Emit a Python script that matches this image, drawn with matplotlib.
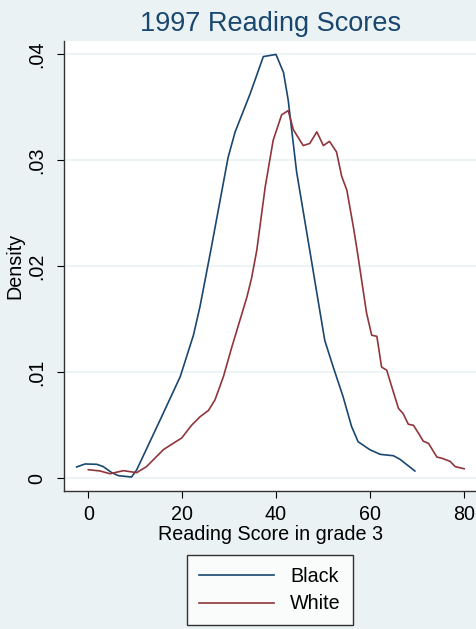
import matplotlib
matplotlib.use("Agg")
import matplotlib.pyplot as plt

# Kernel density curves
black_x = [-2.5, -0.7, 1.8, 3.2, 5.0, 6.4, 9.2, 10.3, 15.3, 19.6, 22.4, 23.8, 26.1,
           29.8, 31.3, 34.5, 37.3, 40.0, 41.6, 42.6, 44.4, 47.2, 48.7, 50.4, 52.2,
           54.3, 56.1, 57.5, 60.0, 62.2, 65.0, 66.4, 69.6]
black_y = [0.00107, 0.00135, 0.00132, 0.0011, 0.00053, 0.00025, 0.00012, 0.00078,
           0.0055, 0.0096, 0.0135, 0.0162, 0.0215, 0.0303, 0.0327, 0.0363, 0.0398,
           0.0400, 0.0383, 0.0357, 0.0289, 0.0215, 0.0175, 0.0130, 0.0105, 0.0077,
           0.0049, 0.00345, 0.0027, 0.00226, 0.00213, 0.0018, 0.00069]

white_x = [0.0, 2.5, 4.6, 7.5, 10.3, 12.4, 16.0, 18.1, 19.9, 22.0, 23.8, 25.6, 27.0,
           28.8, 30.6, 32.3, 33.8, 34.8, 35.9, 37.7, 39.4, 41.2, 42.6, 43.7, 45.8,
           47.2, 48.7, 50.1, 51.4, 52.9, 54.0, 55.1, 56.5, 57.3, 59.3, 60.4, 61.5,
           62.5, 63.6, 64.7, 66.1, 67.1, 68.2, 69.3, 70.3, 71.4, 72.5, 74.3, 75.3,
           77.1, 78.2, 80.1]
white_y = [0.00081, 0.00069, 0.00043, 0.00072, 0.00053, 0.0011, 0.0027, 0.0033,
           0.0038, 0.0050, 0.0058, 0.0064, 0.0074, 0.0096, 0.0124, 0.0149, 0.0171,
           0.0189, 0.0215, 0.0275, 0.0319, 0.0343, 0.0347, 0.0329, 0.0314, 0.0316,
           0.0327, 0.0314, 0.0318, 0.0308, 0.0285, 0.0272, 0.0237, 0.0215, 0.0156,
           0.0135, 0.0134, 0.0105, 0.0102, 0.0086, 0.0066, 0.0061, 0.0051, 0.0050,
           0.0043, 0.0035, 0.0033, 0.0020, 0.0019, 0.0016, 0.0011, 0.0009]

x_ticks = [0, 20, 40, 60, 80]
y_ticks = [0, 0.01, 0.02, 0.03, 0.04]
y_ticklabels = ["0", ".01", ".02", ".03", ".04"]

BG = "#EAF2F3"
NAVY = "#1A476F"
MAROON = "#90353B"
FS = 14.2

plt.rcParams["font.family"] = ["Liberation Sans", "DejaVu Sans"]

fig = plt.figure(figsize=(4.77, 6.29), dpi=100, facecolor=BG)
ax = fig.add_axes([64 / 477, 1 - 491 / 629, 1 - 64 / 477, (491 - 41) / 629])
ax.set_facecolor("white")

for y in y_ticks:
    ax.axhline(y, color=BG, linewidth=1.2, zorder=0)

ax.plot(black_x, black_y, color=NAVY, linewidth=1.2, label="Black")
ax.plot(white_x, white_y, color=MAROON, linewidth=1.2, label="White")

ax.set_xlim(-5.18, 82.84)
ax.set_ylim(-0.0012, 0.04127)

ax.set_xticks(x_ticks)
ax.set_yticks(y_ticks)
ax.set_yticklabels(y_ticklabels, rotation=90, va="center")
ax.tick_params(axis="both", labelsize=FS, length=5, width=0.8, color="black")
ax.tick_params(axis="y", pad=8)
ax.tick_params(axis="x", pad=5)

for side in ("top", "right"):
    ax.spines[side].set_visible(False)
for side in ("left", "bottom"):
    ax.spines[side].set_color("#333333")
    ax.spines[side].set_linewidth(1.0)

ax.set_title("1997 Reading Scores", fontsize=19.5, color=NAVY, pad=7)
ax.set_xlabel("Reading Score in grade 3", fontsize=FS, labelpad=1)
ax.set_ylabel("Density", fontsize=FS, labelpad=2)

leg = fig.legend(loc="center", bbox_to_anchor=(270 / 477, 1 - 590 / 629),
                 fontsize=FS, frameon=True, fancybox=False, handlelength=3.8,
                 handletextpad=0.8, borderpad=0.6, labelspacing=0.45,
                 borderaxespad=0)
leg.get_frame().set_edgecolor("black")
leg.get_frame().set_linewidth(1.0)
leg.get_frame().set_facecolor("white")

fig.savefig("out.png", dpi=100, facecolor=BG)
